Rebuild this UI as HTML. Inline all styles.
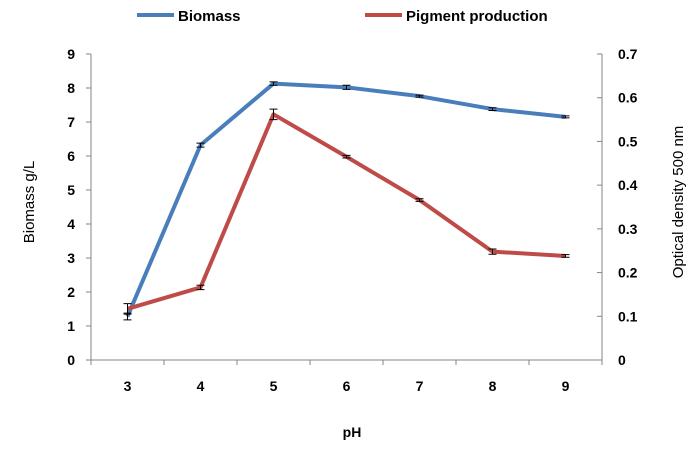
<!DOCTYPE html>
<html><head><meta charset="utf-8"><style>
body{margin:0;background:#fff}
svg text{font-family:"Liberation Sans",Arial,sans-serif;font-weight:bold;font-size:14px;fill:#000}
svg text.t{font-weight:normal;font-size:15px}
</style></head><body>
<svg width="695" height="450">
<g id="g"></g>
</svg>
<script>
const categories=["3","4","5","6","7","8","9"];
const biomass=[1.28,6.32,8.13,8.02,7.76,7.38,7.15];
const biomassErr=[0.1,0.06,0.05,0.06,0.03,0.04,0.03];
const pigment=[0.117,0.166,0.562,0.465,0.366,0.248,0.238];
const pigmentErr=[0.012,0.005,0.012,0.003,0.003,0.006,0.003];
const leftTicks=[0,1,2,3,4,5,6,7,8,9];
const rightTicks=["0","0.1","0.2","0.3","0.4","0.5","0.6","0.7"];
const NS="http://www.w3.org/2000/svg";
const g=document.getElementById('g');
const X0=91,X1=602,Y0=360,Y1=54;
const step=(X1-X0)/categories.length;
const xs=i=>X0+step*(i+0.5);
const yl=v=>Y0-(Y0-Y1)*v/9;
const yr=v=>Y0-(Y0-Y1)*v/0.7;
function el(t,a,name,txt){const e=document.createElementNS(NS,t);for(const k in a)e.setAttribute(k,a[k]);


if(txt!==undefined)e.textContent=txt;g.appendChild(e);return e;}
el('line',{x1:X0,y1:Y1,x2:X0,y2:Y0,stroke:'#868686'},'left-axis');
el('line',{x1:X1,y1:Y1,x2:X1,y2:Y0+5,stroke:'#868686'},'right-axis');
el('line',{x1:X0,y1:Y0,x2:X1,y2:Y0,stroke:'#868686'},'x-axis');
leftTicks.forEach(v=>{el('line',{x1:X0-5,y1:yl(v),x2:X0,y2:yl(v),stroke:'#868686'},'left-tick');
el('text',{x:X0-16,y:yl(v)+5,'text-anchor':'end'},'left-tick-label',String(v));});
rightTicks.forEach(s=>{const v=parseFloat(s);el('line',{x1:X1-5,y1:yr(v),x2:X1,y2:yr(v),stroke:'#868686'},'right-tick');
el('text',{x:X1+16,y:yr(v)+5},'right-tick-label',s);});
categories.forEach((c,i)=>{el('line',{x1:X0+step*i,y1:Y0,x2:X0+step*i,y2:Y0+5,stroke:'#868686'},'x-tick');
el('text',{x:xs(i),y:Y0+31,'text-anchor':'middle'},'x-tick-label',c);});
function series(vals,errs,fy,color,name){
el('polyline',{points:vals.map((v,i)=>xs(i)+','+fy(v)).join(' '),fill:'none',stroke:color,'stroke-width':4,'stroke-linejoin':'round'},name+'-line');
vals.forEach((v,i)=>{const a=fy(v+errs[i]),b=fy(v-errs[i]),x=xs(i);
el('path',{d:`M${x},${a}V${b}M${x-4},${a}H${x+4}M${x-4},${b}H${x+4}`,stroke:'#000','stroke-width':1,fill:'none'},name+'-error-bar');});}
series(biomass,biomassErr,yl,'#4a7ebb','biomass');
series(pigment,pigmentErr,yr,'#be4b48','pigment');
el('line',{x1:137,y1:15,x2:174,y2:15,stroke:'#4a7ebb','stroke-width':4},'legend-biomass-swatch');
el('text',{x:178,y:21,style:'font-size:15px'},'legend-biomass-label','Biomass');
el('line',{x1:365,y1:15,x2:402,y2:15,stroke:'#be4b48','stroke-width':4},'legend-pigment-swatch');
el('text',{x:406,y:21,style:'font-size:15px'},'legend-pigment-label','Pigment production');
el('text',{x:352,y:437,'text-anchor':'middle'},'x-axis-title','pH');
el('text',{x:0,y:0,'text-anchor':'middle','class':'t',transform:'translate(34,202) rotate(-90)'},'left-axis-title','Biomass g/L');
el('text',{x:0,y:0,'text-anchor':'middle','class':'t',transform:'translate(683,202) rotate(-90)'},'right-axis-title','Optical density 500 nm');
</script>
</body></html>
